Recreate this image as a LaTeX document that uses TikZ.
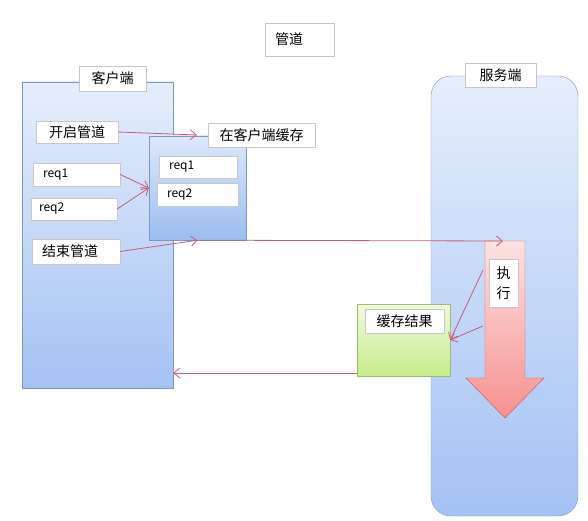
\documentclass[tikz,border=0pt]{standalone}
\usepackage{fontspec}
\newfontfamily\cjk{Noto Sans CJK SC}
\usetikzlibrary{arrows.meta}
\definecolor{sideline}{RGB}{128,150,186}
\definecolor{sidetop}{RGB}{230,238,252}
\definecolor{sidebot}{RGB}{164,194,244}
\definecolor{bufftop}{RGB}{222,232,250}
\definecolor{buffbot}{RGB}{155,189,240}
\definecolor{resultline}{RGB}{160,185,110}
\definecolor{resulttop}{RGB}{240,249,220}
\definecolor{resultbot}{RGB}{198,236,140}
\definecolor{arrowline}{RGB}{205,85,90}
\definecolor{arrowtop}{RGB}{253,226,226}
\definecolor{arrowbot}{RGB}{247,144,144}
\definecolor{flowred}{RGB}{196,96,118}
\definecolor{tagline}{RGB}{200,200,200}
\tikzset{
	tag/.style={draw=tagline, fill=white, inner sep=0pt, font=\cjk\fontsize{14}{16}\selectfont},
	reqtag/.style={tag, font=\cjk\fontsize{12}{14}\selectfont},
	side/.style={draw=sideline, top color=sidetop, bottom color=sidebot, inner sep=0pt},
	flow/.style={draw=flowred, line width=0.8pt, -{Straight Barb[length=6pt,width=10pt]}},
}

\begin{document}
\begin{tikzpicture}[x=1pt,y=-1pt]
			%%%%% START %%%%%
			\useasboundingbox (0,0) rectangle (588,521);
			
			\node[tag, minimum height=33pt, text width=49pt, inner xsep=10pt, align=left] (title) at (299.5,39.5) {管道};
			
			% client side
			\node[side, minimum width=151pt, minimum height=306pt] (client) at (97.5,235) {};
			\node[tag, minimum width=67pt, minimum height=25pt] (clienttag) at (112.5,78.5) {客户端};
			\node[tag, minimum width=82pt, minimum height=22pt] (open) at (77,132) {开启管道};
			\node[reqtag, minimum height=23pt, text width=67pt, inner xsep=10pt, align=left] (req1) at (76.5,174.5) {req1};
			\node[reqtag, minimum height=22pt, text width=70pt, inner xsep=8pt, align=left] (req2) at (74,209) {req2};
			\node[tag, minimum height=25pt, text width=68pt, inner xsep=10pt, align=left] (close) at (76,251.5) {结束管道};
			
			\node[side, top color=bufftop, bottom color=buffbot, minimum width=97pt, minimum height=104pt] (buffer) at (197.5,188) {};
			\node[reqtag, minimum height=22pt, text width=58pt, inner xsep=10pt, align=left] (bufreq1) at (198,167) {req1};
			\node[reqtag, minimum height=23pt, text width=61pt, inner xsep=10pt, align=left] (bufreq2) at (197.5,194.5) {req2};
			\node[tag, minimum width=107pt, minimum height=24pt] (cachetag) at (261.5,135) {在客户端缓存};
			
			% server side
			\node[side, rounded corners=20pt, minimum width=147pt, minimum height=440pt] (server) at (504.5,296) {};
			\node[tag, minimum width=71pt, minimum height=24pt] (servertag) at (500.5,75) {服务端};
			
			\draw[arrowline, top color=arrowtop, bottom color=arrowbot] (485,241) -- (525,241) -- (525,378) -- (544,378) -- (505,418) -- (466,378) -- (485,378) -- cycle;
			\coordinate (exectop) at (503,241);
			\node[tag, minimum width=29pt, minimum height=48pt, align=center, font=\cjk\fontsize{14}{20}\selectfont] (exec) at (503.5,283) {执\\行};
			
			\node[side, draw=resultline, top color=resulttop, bottom color=resultbot, minimum width=93pt, minimum height=72pt] (result) at (403.5,340) {};
			\node[tag, minimum width=79pt, minimum height=24pt] (resulttag) at (404.5,321) {缓存结果};
			
			% connectors
			\draw[flow] (open.east) -- ([xshift=-11pt]cachetag.west);
			\draw[flow] (req1.east) -- (buffer.west);
			\draw[flow] (req2.east) -- (buffer.west);
			\draw[flow] (close.east) -- (buffer.south);
			\draw[flow] (buffer.south) -- (exectop);
			
			\coordinate (e1) at (483,270);
			\coordinate (e2) at (483,326);
			\draw[flow] (e1) -- (result.east);
			\draw[flow] (e2) -- (result.east);
			
			\coordinate (back) at (357,373);
			\draw[flow] (back) -- (back -| client.east);
			%%%%% END %%%%%
\end{tikzpicture}
\end{document}
